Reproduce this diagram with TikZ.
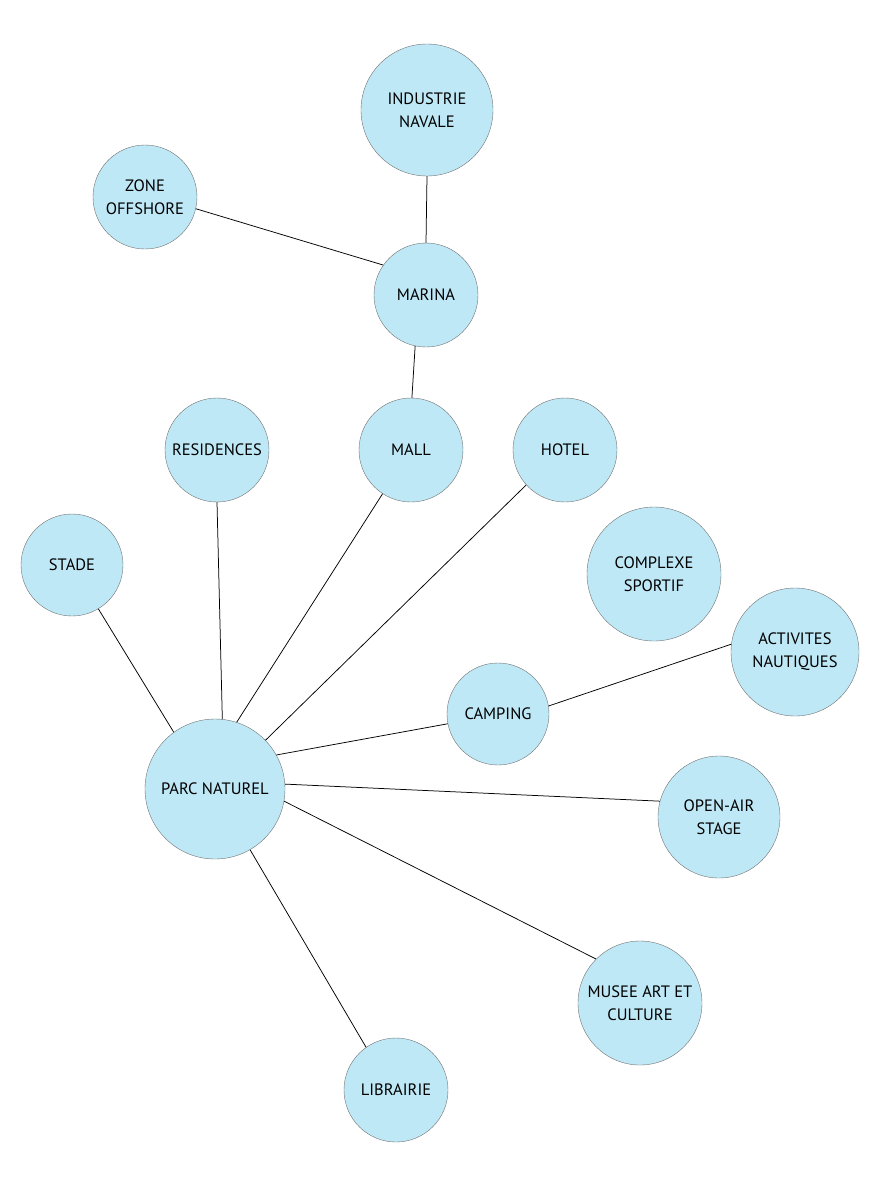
\documentclass[tikz,border=0pt]{standalone}
\usepackage{fontspec}
\setmainfont{PT Sans}
\definecolor{bleuciel}{HTML}{BEE8F6}
\begin{document}
\begin{tikzpicture}[x=1pt,y=-1pt,every node/.style={font=\fontsize{16.5}{23}\selectfont,align=center},
  bulle/.style={circle,draw=black!55,line width=0.4pt,fill=bleuciel,inner sep=0pt,minimum size=#1},
  lien/.style={line width=0.75pt}]
\useasboundingbox (0,0) rectangle (893,1192);
% les bulles
\node[bulle=132pt] (navale) at (427,110) {INDUSTRIE\\NAVALE};
\node[bulle=104pt] (offshore) at (145,197) {ZONE\\OFFSHORE};
\node[bulle=104pt] (marina) at (426,295) {MARINA};
\node[bulle=104pt] (residences) at (217,450) {RESIDENCES};
\node[bulle=104pt] (mall) at (411,450) {MALL};
\node[bulle=104pt] (hotel) at (565,450) {HOTEL};
\node[bulle=102pt] (stade) at (72,565) {STADE};
\node[bulle=134pt] (sportif) at (654,574) {COMPLEXE\\SPORTIF};
\node[bulle=128pt] (nautique) at (795,652) {ACTIVITES\\NAUTIQUES};
\node[bulle=102pt] (camping) at (498,714) {CAMPING};
\node[bulle=140pt] (parc) at (215,789) {PARC NATUREL};
\node[bulle=122pt] (stage) at (719,817) {OPEN-AIR\\STAGE};
\node[bulle=124pt] (musee) at (640,1003) {MUSEE ART ET\\CULTURE};
\node[bulle=104pt] (librairie) at (396,1090) {LIBRAIRIE};
% les liens
\draw[lien] (navale.270)--(marina.90); \draw[lien] (offshore.-13)--(marina.145); \draw[lien] (marina.258)--(mall.89);
\foreach \a/\n/\b in {126/stade/301,84/residences/270,72/mall/237,44/hotel/222,29/camping/191,4/stage/165,-10/musee/135,300/librairie/125}
  \draw[lien] (parc.\a)--(\n.\b);
\draw[lien] (camping.9)--(nautique.173);
\end{tikzpicture}
\end{document}
